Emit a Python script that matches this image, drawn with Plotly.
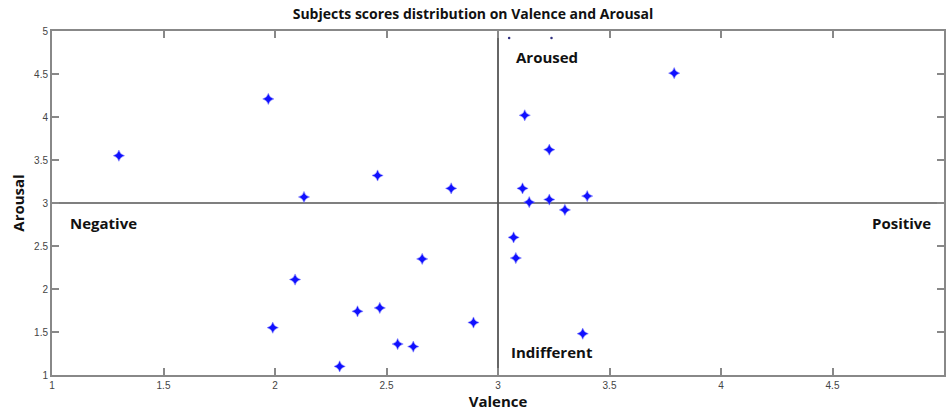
import plotly.graph_objects as go

valence = [1.30, 1.97, 2.13, 2.46, 2.79, 2.09, 1.99, 2.66, 2.37, 2.47, 2.55, 2.62, 2.89, 2.29,
           3.79, 3.12, 3.23, 3.11, 3.14, 3.23, 3.40, 3.30, 3.07, 3.08, 3.38]
arousal = [3.55, 4.21, 3.07, 3.32, 3.17, 2.11, 1.55, 2.35, 1.74, 1.78, 1.36, 1.33, 1.61, 1.10,
           4.51, 4.02, 3.62, 3.17, 3.01, 3.04, 3.08, 2.92, 2.60, 2.36, 1.48]
stray_valence = [3.05, 3.24]
stray_arousal = [4.92, 4.92]

tick_vals_x = [1, 1.5, 2, 2.5, 3, 3.5, 4, 4.5, 5]
tick_text_x = ["1", "1.5", "2", "2.5", "3", "3.5", "4", "4.5", "5"]
tick_vals_y = [1, 1.5, 2, 2.5, 3, 3.5, 4, 4.5, 5]
tick_text_y = ["1", "1.5", "2", "2.5", "3", "3.5", "4", "4.5", "5"]

quadrant_labels = ["Aroused", "Negative", "Positive", "Indifferent"]
quadrant_x = [3.07, 1.07, 4.95, 3.05]
quadrant_y = [4.7, 2.77, 2.77, 1.27]
quadrant_anchor = ["left", "left", "right", "left"]

fig = go.Figure()
fig.add_trace(go.Scatter(
    x=valence, y=arousal, mode="markers",
    marker=dict(symbol="star-diamond", size=8, color="#1010ff",
                line=dict(width=0.5, color="#7070ff")),
    showlegend=False, hoverinfo="x+y"))
fig.add_trace(go.Scatter(
    x=stray_valence, y=stray_arousal, mode="markers",
    marker=dict(symbol="circle", size=2.5, color="#303080"),
    showlegend=False, hoverinfo="skip"))

fig.add_shape(type="line", x0=3, x1=3, y0=1, y1=5, xref="x", yref="y",
              line=dict(color="#333333", width=1.5), layer="below")
fig.add_shape(type="line", x0=1, x1=5, y0=3, y1=3, xref="x", yref="y",
              line=dict(color="#555555", width=1.5), layer="below")

for t, xx, yy, an in zip(quadrant_labels, quadrant_x, quadrant_y, quadrant_anchor):
    fig.add_annotation(x=xx, y=yy, text="<b>" + t + "</b>", showarrow=False,
                       xanchor=an, yanchor="middle",
                       font=dict(family="Open Sans", size=15, color="#111111"))

axis_common = dict(showgrid=False, zeroline=False, showline=True, linecolor="#888888",
                   linewidth=2, mirror="ticks", ticks="inside", ticklen=7,
                   tickcolor="#888888", tickwidth=1.5, automargin=False,
                   tickfont=dict(family="Liberation Sans Narrow, Liberation Sans", size=10, color="#444444"))

fig.update_layout(
    width=946, height=416,
    margin=dict(l=52, r=2, t=31, b=41, autoexpand=False),
    paper_bgcolor="white", plot_bgcolor="white",
    title=dict(text="<b>Subjects scores distribution on Valence and Arousal</b>",
               x=0.5, xanchor="center", y=0.978, yanchor="top", automargin=False,
               font=dict(family="Open Sans", size=14, color="#111111")),
    xaxis=dict(range=[1, 5], tickvals=tick_vals_x, ticktext=tick_text_x,
               title=dict(text="<b>Valence</b>", standoff=2,
                          font=dict(family="Open Sans", size=15, color="#111111")),
               **axis_common),
    yaxis=dict(range=[1, 5], tickvals=tick_vals_y, ticktext=tick_text_y,
               title=dict(text="<b>Arousal</b>", standoff=6,
                          font=dict(family="Open Sans", size=15, color="#111111")),
               **axis_common),
)

fig.write_html("out.html", config={"displayModeBar": False},
               post_script="document.body.style.margin='0';document.body.style.overflow='hidden';")
